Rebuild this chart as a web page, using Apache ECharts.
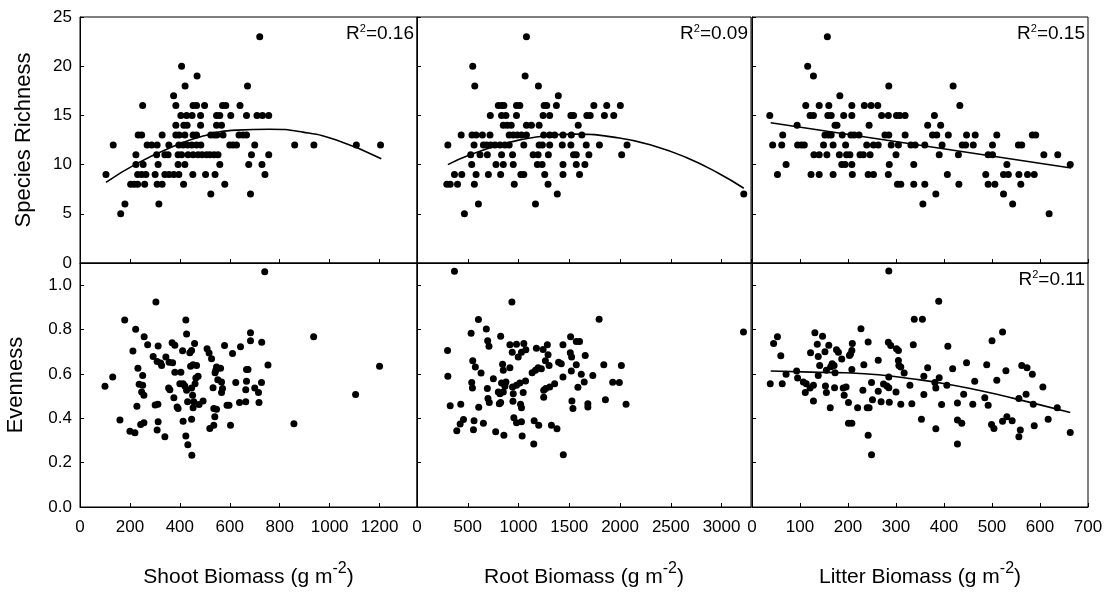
<!DOCTYPE html>
<html>
<head>
<meta charset="utf-8">
<script src="https://cdn.jsdelivr.net/npm/echarts@6/dist/echarts.min.js"></script>
<style>
  html, body { margin: 0; padding: 0; background: #fff; }
  #chart { width: 1112px; height: 600px; }
</style>
</head>
<body>
<div id="chart"></div>
<script>
// top row: species richness
const shootRichness = [
  [720,23],[407,20],[469,19],[421,18],[671,18],[375,17],
  [251,16],[384,16],[453,16],[467,16],[499,16],[571,16],[584,16],[641,16],
  [404,15],[427,15],[449,15],[483,15],[547,15],[560,15],[604,15],[667,15],[709,15],[731,15],[756,15],
  [384,14],[416,14],[429,14],[483,14],[547,14],[567,14],
  [233,13],[247,13],[329,13],[384,13],[397,13],[420,13],[453,13],[467,13],[524,13],[537,13],[548,13],[573,13],[637,13],[653,13],[667,13],
  [133,12],[269,12],[287,12],[309,12],[356,12],[396,12],[413,12],[431,12],[448,12],[467,12],[484,12],[600,12],[613,12],[627,12],[700,12],[860,12],[937,12],[1107,12],[1204,12],
  [224,11],[307,11],[340,11],[353,11],[393,11],[407,11],[433,11],[453,11],[473,11],[489,11],[507,11],[520,11],[537,11],[553,11],[687,11],[756,11],
  [224,10],[253,10],[313,10],[393,10],[420,10],[560,10],[676,10],[729,10],
  [104,9],[231,9],[247,9],[264,9],[301,9],[340,9],[357,9],[376,9],[396,9],[452,9],[503,9],[541,9],[741,9],
  [203,8],[217,8],[231,8],[259,8],[309,8],[329,8],[415,8],[580,8],
  [524,7],[683,7],[180,6],[316,6],[163,5]
]
const rootRichness = [
  [1078,23],[549,20],[1065,19],[569,18],[1196,18],[1392,17],
  [801,16],[833,16],[856,16],[980,16],[1013,16],[1252,16],[1278,16],[1373,16],[1742,16],[1869,16],[2003,16],
  [722,15],[833,15],[876,15],[980,15],[1242,15],[1307,15],[1516,15],[1542,15],[1673,15],[1706,15],[1846,15],[1938,15],
  [850,14],[889,14],[928,14],[1078,14],[1127,14],[1203,14],[1588,14],
  [435,13],[542,13],[582,13],[644,13],[719,13],[908,13],[948,13],[987,13],[1029,13],[1078,13],[1248,13],[1307,13],[1356,13],[1438,13],[1520,13],[1624,13],
  [304,12],[562,12],[654,12],[686,12],[725,12],[768,12],[817,12],[866,12],[908,12],[1052,12],[1203,12],[1235,12],[1307,12],[1431,12],[1516,12],[1667,12],[1797,12],[2069,12],
  [529,11],[621,11],[693,11],[833,11],[941,11],[1144,11],[1193,11],[1294,11],[1542,11],[1569,11],[1693,11],[2016,11],
  [539,10],[778,10],[850,10],[948,10],[1186,10],[1232,10],[1438,10],[1569,10],[1654,10],
  [369,9],[441,9],[582,9],[703,9],[824,9],[1023,9],[1052,9],[1258,9],[1438,9],[1601,9],
  [294,8],[327,8],[399,8],[565,8],[958,8],[1291,8],
  [1382,7],[3219,7],[605,6],[1167,6],[467,5]
]
const litterRichness = [
  [157,23],[116,20],[128,19],[285,18],[419,18],[183,17],
  [112,16],[140,16],[160,16],[208,16],[234,16],[248,16],[262,16],[433,16],
  [37,15],[121,15],[128,15],[158,15],[165,15],[191,15],[208,15],[270,15],[284,15],[301,15],[308,15],[319,15],[380,15],
  [94,14],[173,14],[177,14],[244,14],[366,14],[393,14],
  [64,13],[152,13],[159,13],[165,13],[188,13],[206,13],[213,13],[223,13],[277,13],[285,13],[319,13],[376,13],[385,13],[409,13],[447,13],[465,13],[510,13],[584,13],[591,13],
  [43,12],[62,12],[95,12],[103,12],[109,12],[149,12],[169,12],[195,12],[239,12],[253,12],[263,12],[290,12],[305,12],[331,12],[340,12],[360,12],[396,12],[438,12],[445,12],[461,12],[501,12],[555,12],[562,12],
  [129,11],[140,11],[156,11],[182,11],[197,11],[204,11],[225,11],[232,11],[246,11],[300,11],[390,11],[430,11],[492,11],[501,11],[608,11],[637,11],
  [71,10],[187,10],[194,10],[208,10],[286,10],[337,10],[531,10],[663,10],
  [53,9],[123,9],[140,9],[169,9],[209,9],[242,9],[253,9],[284,9],[407,9],[487,9],[524,9],[534,9],[556,9],[574,9],[588,9],
  [303,8],[310,8],[337,8],[360,8],[431,8],[492,8],[506,8],[560,8],
  [383,7],[524,7],[356,6],[543,6],[619,5]
]

// bottom row: evenness
const shootEvenness = [
  [740,1.061],[304,0.924],[179,0.843],[424,0.843],[223,0.801],[427,0.780],[257,0.767],[683,0.786],[936,0.768],
  [271,0.732],[313,0.726],[369,0.741],[380,0.729],[459,0.737],[447,0.705],[440,0.695],[411,0.704],[509,0.713],
  [517,0.694],[527,0.668],[579,0.728],[611,0.692],[643,0.723],[683,0.749],[728,0.743],[212,0.703],[293,0.679],
  [309,0.656],[327,0.638],[323,0.649],[344,0.676],[357,0.653],[371,0.650],[380,0.608],[404,0.608],[443,0.634],
  [453,0.641],[467,0.638],[547,0.631],[563,0.626],[541,0.605],[544,0.616],[667,0.620],[673,0.620],[753,0.640],
  [1200,0.635],[232,0.626],[131,0.586],[100,0.544],[251,0.593],[237,0.553],[251,0.549],[247,0.519],[256,0.504],
  [355,0.537],[360,0.529],[376,0.492],[389,0.451],[393,0.444],[400,0.556],[413,0.556],[420,0.546],[427,0.526],
  [431,0.474],[447,0.537],[451,0.504],[456,0.474],[461,0.556],[464,0.581],[473,0.589],[453,0.447],[477,0.462],
  [493,0.478],[533,0.538],[536,0.444],[547,0.441],[552,0.574],[567,0.564],[571,0.534],[567,0.516],[624,0.561],
  [667,0.567],[664,0.529],[700,0.537],[715,0.516],[727,0.561],[717,0.471],[639,0.471],[664,0.474],[589,0.459],
  [597,0.459],[228,0.454],[301,0.460],[312,0.463],[160,0.392],[200,0.342],[220,0.335],[243,0.372],[256,0.380],
  [313,0.384],[309,0.347],[340,0.317],[413,0.387],[447,0.396],[424,0.320],[520,0.354],[540,0.407],[536,0.369],
  [603,0.368],[432,0.281],[448,0.233],[857,0.375],[1104,0.507]
]
const rootEvenness = [
  [369,1.063],[935,0.924],[605,0.845],[1794,0.846],[683,0.803],[533,0.783],[824,0.770],[1513,0.768],[3216,0.789],
  [301,0.706],[696,0.750],[709,0.725],[915,0.731],[980,0.734],[1052,0.737],[938,0.698],[1029,0.698],[997,0.676],
  [1072,0.709],[1176,0.716],[1242,0.710],[1284,0.731],[1291,0.686],[1438,0.731],[1510,0.695],[1523,0.676],
  [1569,0.746],[1601,0.746],[1657,0.683],[549,0.659],[575,0.631],[631,0.604],[843,0.644],[850,0.616],[915,0.628],
  [304,0.589],[539,0.561],[546,0.537],[752,0.578],[833,0.559],[876,0.564],[866,0.544],[801,0.519],[817,0.511],
  [850,0.519],[693,0.534],[941,0.541],[980,0.549],[1013,0.559],[1069,0.568],[948,0.511],[1046,0.516],[1134,0.605],
  [1167,0.616],[1193,0.628],[1225,0.623],[1265,0.659],[1301,0.638],[1395,0.653],[1421,0.646],[1438,0.586],
  [1520,0.613],[1569,0.641],[1618,0.598],[1647,0.564],[1585,0.540],[1732,0.593],[1840,0.641],[2013,0.638],
  [1928,0.562],[1993,0.561],[1248,0.526],[1268,0.534],[1307,0.541],[1356,0.556],[1248,0.495],[1856,0.484],
  [2059,0.463],[1526,0.478],[1536,0.444],[1683,0.466],[1683,0.451],[699,0.489],[712,0.471],[811,0.466],[824,0.471],
  [945,0.477],[1020,0.463],[1029,0.447],[327,0.457],[431,0.463],[608,0.450],[954,0.402],[980,0.380],[1029,0.384],
  [1154,0.389],[1199,0.369],[1324,0.369],[1379,0.353],[458,0.395],[425,0.374],[392,0.344],[562,0.389],[556,0.348],
  [654,0.377],[775,0.339],[856,0.324],[1036,0.320],[1150,0.284],[1441,0.235]
]
const litterEvenness = [
  [285,1.064],[389,0.927],[338,0.846],[355,0.846],[227,0.804],[131,0.785],[147,0.770],[522,0.789],[53,0.768],
  [45,0.737],[60,0.682],[136,0.734],[138,0.679],[160,0.729],[152,0.700],[122,0.695],[141,0.638],[176,0.709],
  [180,0.698],[187,0.667],[203,0.683],[208,0.706],[209,0.737],[205,0.689],[242,0.744],[284,0.743],[289,0.728],
  [301,0.713],[305,0.706],[336,0.731],[408,0.725],[500,0.750],[263,0.662],[233,0.641],[208,0.620],[171,0.638],
  [164,0.632],[167,0.646],[155,0.616],[173,0.605],[138,0.593],[305,0.661],[306,0.638],[317,0.604],[310,0.631],
  [366,0.628],[418,0.623],[447,0.650],[489,0.641],[529,0.614],[562,0.638],[573,0.628],[584,0.598],[606,0.541],
  [71,0.598],[93,0.613],[95,0.581],[38,0.556],[63,0.556],[107,0.564],[113,0.556],[111,0.516],[121,0.537],
  [128,0.549],[128,0.478],[153,0.546],[155,0.516],[172,0.538],[163,0.448],[190,0.537],[192,0.504],[196,0.541],
  [201,0.471],[231,0.526],[220,0.448],[240,0.448],[244,0.448],[249,0.561],[251,0.484],[263,0.522],[269,0.474],
  [274,0.555],[281,0.546],[285,0.586],[285,0.538],[286,0.472],[300,0.519],[310,0.463],[329,0.549],[333,0.466],
  [358,0.590],[358,0.507],[381,0.561],[383,0.537],[390,0.583],[395,0.462],[406,0.549],[353,0.396],[383,0.353],
  [428,0.469],[428,0.392],[437,0.377],[441,0.508],[460,0.463],[464,0.567],[485,0.493],[492,0.459],[499,0.372],
  [504,0.354],[510,0.571],[522,0.387],[531,0.407],[542,0.389],[556,0.489],[559,0.347],[556,0.317],[571,0.508],
  [586,0.463],[588,0.366],[617,0.396],[636,0.447],[663,0.336],[428,0.284],[242,0.323],[249,0.235],[201,0.377],
  [208,0.377]
]

// fitted curves
const shootRichFit = [[104,8.2],[227,10.1],[360,11.7],[493,12.9],[627,13.5],[760,13.6],[893,13.3],[1027,12.5],[1207,10.6]]
const rootRichFit = [[304,10.0],[523,11.0],[850,12.1],[1176,12.8],[1554,13.1],[1993,12.7],[2320,11.95],[2647,10.75],[2974,9.1],[3219,7.6]]
const litterRichFit = [[39,14.26],[665,9.66]]
const litterEvenFit = [[39,0.613],[124,0.608],[194,0.605],[263,0.596],[333,0.578],[402,0.556],[472,0.526],[541,0.492],[663,0.426]]

const rSquared = ['0.16', '0.09', '0.15', null, null, '0.11']
const xTitles = ['Shoot Biomass', 'Root Biomass', 'Litter Biomass']
const yTitles = ['Species Richness', 'Evenness']
// [min, max, interval]
const xScales = [[0, 1350, 200], [0, 3290, 500], [0, 700, 100]]
const yScales = [[0, 25, 5], [0, 1.1, 0.2]]

const FONT = '"Liberation Sans", Arial, sans-serif'
const cols = [{ left: 80, width: 337 }, { left: 417, width: 334 }, { left: 752, width: 336 }]
const rows = [{ top: 17, height: 246 }, { top: 263, height: 244 }]

const panels = [
  { pts: shootRichness, fit: shootRichFit },
  { pts: rootRichness, fit: rootRichFit },
  { pts: litterRichness, fit: litterRichFit },
  { pts: shootEvenness, fit: null },
  { pts: rootEvenness, fit: null },
  { pts: litterEvenness, fit: litterEvenFit }
]

const chart = echarts.init(document.getElementById('chart'), null, { renderer: 'canvas' })

const grid = [], xAxis = [], yAxis = [], series = [], graphic = []

panels.forEach((p, i) => {
  const r = Math.floor(i / 3), c = i % 3
  const xs = xScales[c], ys = yScales[r]
  grid.push({
    left: cols[c].left, width: cols[c].width, top: rows[r].top, height: rows[r].height,
    show: true, borderColor: '#000', borderWidth: 1, backgroundColor: 'transparent'
  })
  xAxis.push({
    gridIndex: i, type: 'value', min: xs[0], max: xs[1], interval: xs[2],
    axisLine: { show: true, onZero: false, lineStyle: { color: '#000', width: 1 } },
    axisTick: { show: true, inside: true, length: 4, lineStyle: { color: '#000' } },
    splitLine: { show: false },
    axisLabel: {
      show: r === 1, color: '#000', fontFamily: FONT, fontSize: 17, margin: 12,
      showMaxLabel: xs[1] % xs[2] === 0, showMinLabel: true,
      formatter: v => String(v)
    },
    name: r === 1 ? '{a|' + xTitles[c] + ' (g m}{s|-2}{a|)}' : '',
    nameLocation: 'middle', nameGap: 54,
    nameTextStyle: {
      color: '#000', fontFamily: FONT,
      rich: {
        a: { fontSize: 21, fontFamily: FONT, color: '#000', lineHeight: 22, padding: [11, 0, 0, 0] },
        s: { fontSize: 16, fontFamily: FONT, color: '#000', lineHeight: 16, verticalAlign: 'top' }
      }
    }
  })
  yAxis.push({
    gridIndex: i, type: 'value', min: ys[0], max: ys[1], interval: ys[2],
    axisLine: { show: true, onZero: false, lineStyle: { color: '#000', width: 1 } },
    axisTick: { show: true, inside: true, length: 4, lineStyle: { color: '#000' } },
    splitLine: { show: false },
    axisLabel: {
      show: c === 0, color: '#000', fontFamily: FONT, fontSize: 17, margin: 8,
      showMaxLabel: r === 0,
      formatter: v => r === 1 ? v.toFixed(1) : String(v)
    },
    name: c === 0 ? yTitles[r] : '',
    nameLocation: 'middle', nameGap: r === 0 ? 45 : 53,
    nameTextStyle: { color: '#000', fontFamily: FONT, fontSize: 22 }
  })
  series.push({
    type: 'scatter', xAxisIndex: i, yAxisIndex: i, data: p.pts,
    symbol: 'circle', symbolSize: 7, itemStyle: { color: '#000', opacity: 1 }, silent: true
  })
  if (p.fit) {
    series.push({
      type: 'line', xAxisIndex: i, yAxisIndex: i, data: p.fit, smooth: true,
      showSymbol: false, lineStyle: { color: '#000', width: 1.6 }, silent: true, z: 3
    })
  }
  if (rSquared[i]) {
    graphic.push({
      type: 'text',
      right: 1112 - (cols[c].left + cols[c].width) + 3,
      top: rows[r].top + 6,
      style: {
        text: '{a|R}{s|2}{a|=' + rSquared[i] + '}',
        fill: '#000',
        rich: {
          a: { fontSize: 19, fontFamily: FONT, fill: '#000', lineHeight: 22 },
          s: { fontSize: 11, fontFamily: FONT, fill: '#000', lineHeight: 12, verticalAlign: 'top' }
        }
      }
    })
  }
})

chart.setOption({
  animation: false,
  backgroundColor: '#fff',
  grid, xAxis, yAxis, series, graphic
})
</script>
</body>
</html>
